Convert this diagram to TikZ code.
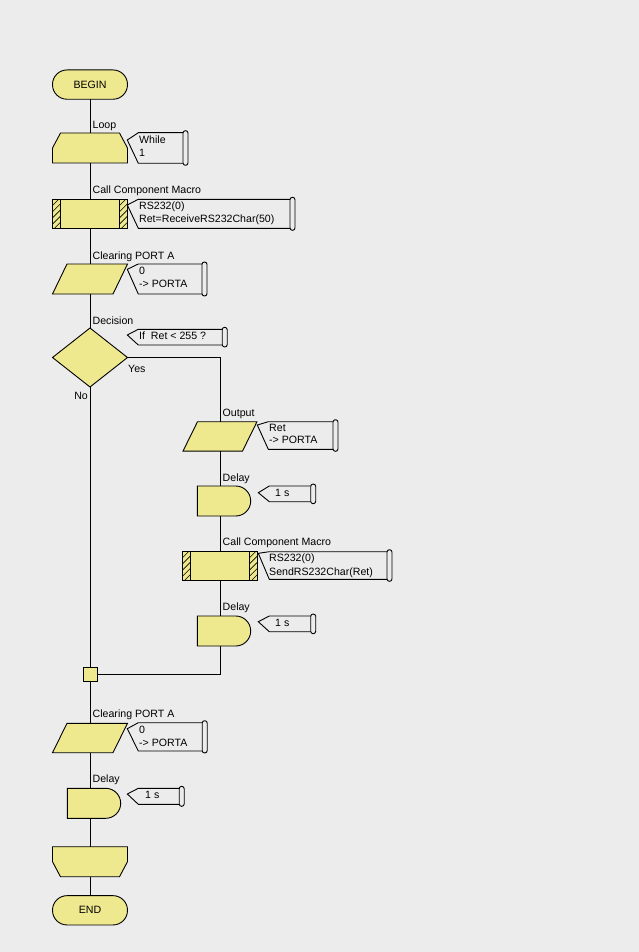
\documentclass[tikz,border=0pt]{standalone}
\usepackage{fontspec}
\setmainfont{Liberation Sans}
\usetikzlibrary{calc,shapes.geometric}
\definecolor{bgc}{RGB}{236,236,236}
\definecolor{yel}{RGB}{238,232,142}
\newcommand\myfs{\fontsize{10.6pt}{13pt}\selectfont}
\tikzset{
  lw/.style={line width=0.9pt},
  shp/.style={draw=black, lw, fill=yel},
  ghost/.style={rectangle, inner sep=0pt, outer sep=0pt, draw=none},
  term/.style={rectangle, rounded corners=14.5pt, shp, minimum width=75pt, minimum height=29.3pt, inner sep=0pt, outer sep=0pt, font=\myfs},
  macbox/.style={rectangle, shp, minimum width=75pt, minimum height=29pt, inner sep=0pt, outer sep=0pt},
  decbox/.style={diamond, shp, minimum width=75pt, minimum height=59pt, inner sep=0pt, outer sep=0pt},
  juncbox/.style={rectangle, shp, minimum width=14pt, minimum height=14pt, inner sep=0pt, outer sep=0pt},
  txt/.style={anchor=base west, inner sep=0pt, font=\myfs},
  txtr/.style={anchor=base east, inner sep=0pt, font=\myfs},
  conn/.style={draw=black, lw},
  cline/.style={draw=black, lw},
}
% text node: name, x, y-centre, text
\newcommand\Txt[4]{\node[txt] (#1) at (#2,#3+3.8) {#4};}
% callout: tipx, tipy, top, bottom, capx
\newcommand\Callout[5]{%
  \draw[cline] (#1,#2) -- (#1+11,#3) -- (#5,#3) -- (#5,#4) -- (#1+11,#4) -- cycle;
  \draw[cline, fill=bgc, rounded corners=2.4pt] (#5-2.5,#3-2) rectangle (#5+2.5,#4+2);}
\newcommand\LoopShape[1]{\draw[shp] ($(#1.north west)+(8,0)$) -- ($(#1.north east)+(-8,0)$) -- (#1.east) -- (#1.south east) -- (#1.south west) -- (#1.west) -- cycle;}
\newcommand\EndLoopShape[1]{\draw[shp] (#1.north west) -- (#1.north east) -- (#1.east) -- ($(#1.south east)+(-8,0)$) -- ($(#1.south west)+(8,0)$) -- (#1.west) -- cycle;}
\newcommand\ParaShape[1]{\draw[shp] ($(#1.north west)+(14.5,0)$) -- (#1.north east) -- ($(#1.south east)+(-14.5,0)$) -- (#1.south west) -- cycle;}
\newcommand\DelayShape[1]{\draw[shp] (#1.south west) -- (#1.north west) -- ($(#1.north east)+(-15,0)$) .. controls ($(#1.north east)+(-6.72,0)$) and ($(#1.east)+(0,-8.28)$) .. (#1.east) .. controls ($(#1.east)+(0,8.28)$) and ($(#1.south east)+(-6.72,0)$) .. ($(#1.south east)+(-15,0)$) -- cycle;}
\newcommand\HatchStrip[1]{%
  \begin{scope}[shift={(#1)}]
    \clip (0,0) rectangle (8,29);
    \foreach \k in {0,...,6}{\draw[line width=0.6pt] (0,\k*6.2) -- ++(40,-40);}
  \end{scope}
  \begin{scope}[shift={(#1)}]
    \draw[lw] (0,0) rectangle (8,29);
  \end{scope}}
\newcommand\MacroShape[1]{\HatchStrip{#1.north west}\HatchStrip{$(#1.north east)+(-8,0)$}}

\begin{document}
\begin{tikzpicture}[x=1pt,y=-1pt]
\useasboundingbox (0,0) rectangle (639,952);
\fill[bgc] (0,0) rectangle (639,952);

% ---------- nodes ----------
\node[term] (begin) at (90,84.6) {BEGIN};
\node[ghost, minimum width=75pt, minimum height=30pt] (loop) at (90,148) {};
\node[macbox] (mac1) at (90,213.8) {};
\node[ghost, minimum width=75pt, minimum height=30pt] (para1) at (90,279) {};
\node[decbox] (dec) at (90,357.5) {};
\node[ghost, minimum width=74pt, minimum height=29.4pt] (out) at (220,436.4) {};
\node[ghost, minimum width=53.4pt, minimum height=30pt] (del1) at (224,501) {};
\node[macbox] (mac2) at (220,566) {};
\node[ghost, minimum width=53.4pt, minimum height=30pt] (del2) at (224,631) {};
\node[juncbox] (junc) at (90,674.5) {};
\node[ghost, minimum width=75pt, minimum height=29.4pt] (para2) at (90,738) {};
\node[ghost, minimum width=53.4pt, minimum height=30pt] (del3) at (94,803.3) {};
\node[ghost, minimum width=75pt, minimum height=30pt] (endl) at (90,861.7) {};
\node[term] (end) at (90,910.3) {END};

% ---------- shapes drawn on the ghost nodes ----------
\LoopShape{loop}
\MacroShape{mac1}
\ParaShape{para1}
\ParaShape{out}
\DelayShape{del1}
\MacroShape{mac2}
\DelayShape{del2}
\ParaShape{para2}
\DelayShape{del3}
\EndLoopShape{endl}

% ---------- connectors ----------
\draw[conn] (begin.south) -- (loop.north);
\draw[conn] (loop.south) -- (mac1.north);
\draw[conn] (mac1.south) -- (para1.north);
\draw[conn] (para1.south) -- (dec.north);
\draw[conn] (dec.east) -- (dec.east -| out.north) -- (out.north);
\draw[conn] (out.south) -- (out.south |- del1.north);
\draw[conn] (out.south |- del1.south) -- (mac2.north);
\draw[conn] (mac2.south) -- (mac2.south |- del2.north);
\draw[conn] (mac2.south |- del2.south) -- (mac2.south |- junc.east) -- (junc.east);
\draw[conn] (dec.south) -- (junc.north);
\draw[conn] (junc.south) -- (para2.north);
\draw[conn] (para2.south) -- (para2.south |- del3.north);
\draw[conn] (para2.south |- del3.south) -- (endl.north);
\draw[conn] (endl.south) -- (end.north);

% ---------- labels ----------
\Txt{lloop}{92.5}{125}{Loop}
\Txt{lmac1}{92.5}{189.3}{Call Component Macro}
\Txt{lpara1}{92.5}{255.7}{Clearing PORT A}
\Txt{ldec}{92.5}{321}{Decision}
\Txt{lyes}{128}{368.3}{Yes}
\node[txtr] (lno) at (88,395.7+3.8) {No};
\Txt{lout}{222.5}{412.3}{Output}
\Txt{ldel1}{222.5}{477.3}{Delay}
\Txt{lmac2}{222.5}{542}{Call Component Macro}
\Txt{ldel2}{222.5}{607}{Delay}
\Txt{lpara2}{92.5}{713.3}{Clearing PORT A}
\Txt{ldel3}{92.5}{779}{Delay}

% ---------- callouts ----------
\Callout{127.3}{140}{132.7}{163.3}{185.5}
\Txt{c1a}{139}{140}{While}
\Txt{c1b}{139}{152.3}{1}

\Callout{127.3}{205}{199.3}{228.3}{292.5}
\Txt{c2a}{139}{205.7}{RS232(0)}
\Txt{c2b}{139}{219}{Ret=ReceiveRS232Char(50)}

\Callout{127.3}{269.3}{264}{294}{204.5}
\Txt{c3a}{139}{270.7}{0}
\Txt{c3b}{139}{283.3}{-> PORTA}

\Callout{127.3}{335}{329.3}{345}{224.7}
\Txt{c4a}{139}{335.7}{If\ \ Ret < 255 ?}

\Callout{257.3}{425}{421.7}{449.3}{335.5}
\Txt{c5a}{269}{427.3}{Ret}
\Txt{c5b}{269}{440}{-> PORTA}

\Callout{258.3}{492.7}{486}{501.7}{313.2}
\Txt{c6a}{275}{492.7}{1 s}

\Callout{258.3}{553.3}{551.7}{579.3}{389.5}
\Txt{c7a}{269}{557.3}{RS232(0)}
\Txt{c7b}{269}{571.3}{SendRS232Char(Ret)}

\Callout{258.3}{621.7}{616}{631.7}{313.2}
\Txt{c8a}{275}{622.3}{1 s}

\Callout{127.3}{728.7}{722.7}{751}{204.7}
\Txt{c9a}{139}{729.3}{0}
\Txt{c9b}{139}{742.3}{-> PORTA}

\Callout{127.3}{794}{788.3}{804.3}{181.7}
\Txt{c10a}{145}{795}{1 s}
\end{tikzpicture}
\end{document}
